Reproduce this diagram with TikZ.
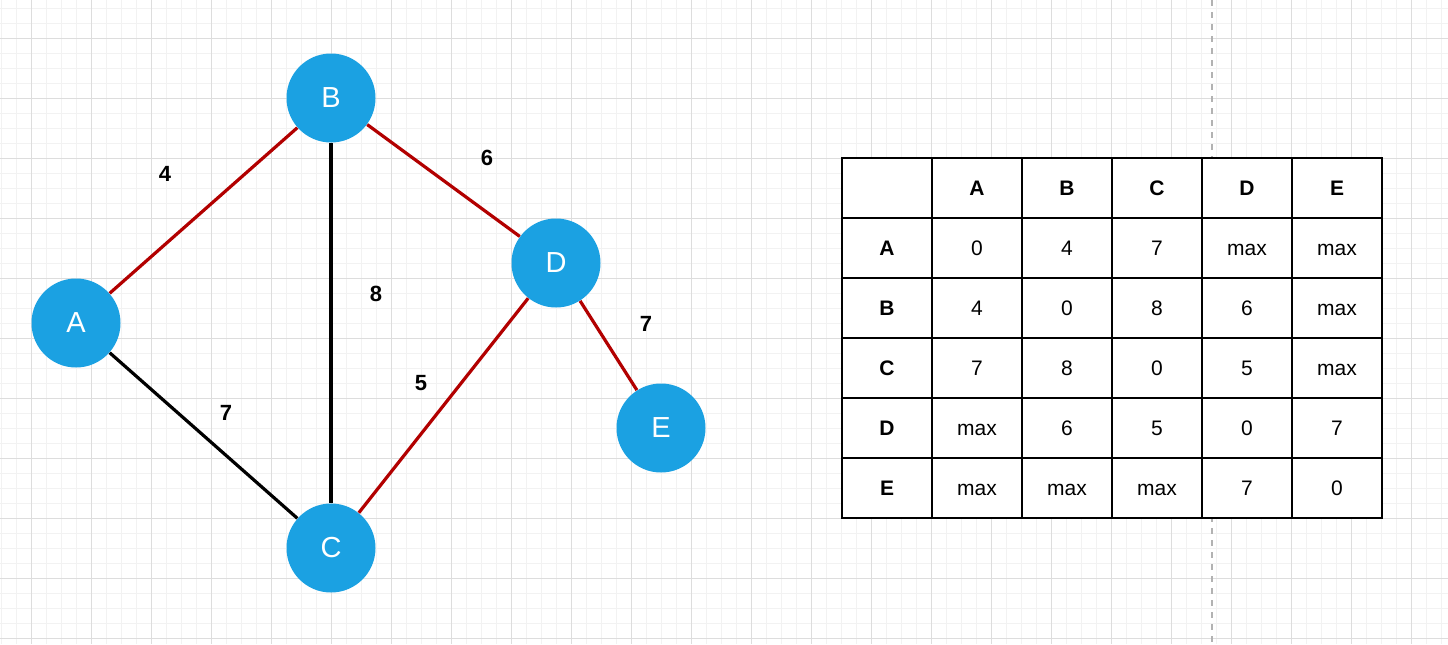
\documentclass[tikz,border=0pt]{standalone}
\usepackage{fontspec}
\setmainfont{Liberation Sans}
\definecolor{nodeblue}{HTML}{1BA1E2}
\definecolor{edgered}{HTML}{B20000}
\definecolor{gridmajor}{HTML}{DDDDDD}
\definecolor{gridminor}{HTML}{F2F2F2}

\begin{document}
\begin{tikzpicture}[x=0.5pt,y=-0.5pt,
  vertex/.style={minimum size=44.5pt,draw=none,circle,fill=nodeblue,text=white,inner sep=0pt,font=\fontsize{14.5}{14.5}\selectfont},
  weight/.style={font=\bfseries\fontsize{11}{11}\selectfont},
  tree/.style={line width=1.6pt,edgered},
  other/.style={line width=1.6pt,black},
  cell/.style={draw,line width=0.75pt,fill=white,minimum width=45pt,minimum height=30pt,inner sep=0pt,text height=7.6pt,text depth=0.1pt,font=\fontsize{10.5}{10.5}\selectfont},
  head/.style={cell,font=\bfseries\fontsize{10.5}{10.5}\selectfont}]
\useasboundingbox (0,0) rectangle (1448,644);
\fill[white] (0,0) rectangle (1448,644);
% background grid
\foreach \x in {1,16,...,1448} \draw[gridminor,line width=0.5pt] (\x,0) -- (\x,644);
\foreach \y in {8,23,...,644} \draw[gridminor,line width=0.5pt] (0,\y) -- (1448,\y);
\foreach \x in {31,91,...,1448} \draw[gridmajor,line width=0.5pt] (\x,0) -- (\x,644);
\foreach \y in {38,98,...,644} \draw[gridmajor,line width=0.5pt] (0,\y) -- (1448,\y);
\draw[gray!60,dashed,line width=0.6pt] (1212,0) -- (1212,644);

% graph
\draw (76,323) node[vertex](A) {A};
\draw (331,98) node[vertex](B) {B};
\draw (331,548) node[vertex](C) {C};
\draw (556,263) node[vertex](D) {D};
\draw (661,428) node[vertex](E) {E};
\draw[tree] (A) -- (B);
\draw[tree] (B) -- (D);
\draw[tree] (D) -- (E);
\draw[tree] (D) -- (C);
\draw[other] (A) -- (C);
\draw[other] (B) -- (C);
\draw (165,174) node[weight](wab) {4};
\draw (487,158) node[weight](wbd) {6};
\draw (376,294) node[weight](wbc) {8};
\draw (421,383) node[weight](wcd) {5};
\draw (226,413) node[weight](wac) {7};
\draw (646,324) node[weight](wde) {7};

% adjacency table
\draw (887,188) node[cell](c00) {};
\foreach \l [count=\i] in {A,B,C,D,E} {
  \draw (887+90*\i,188) node[head](c0\i) {\l};
  \draw (887,188+60*\i) node[head](c\i0) {\l};
}
\foreach \r/\row in {1/{0,4,7,max,max},2/{4,0,8,6,max},3/{7,8,0,5,max},4/{max,6,5,0,7},5/{max,max,max,7,0}}
  \foreach \v [count=\c] in \row
    \draw (887+90*\c,188+60*\r) node[cell](c\r\c) {\v};
\end{tikzpicture}
\end{document}
